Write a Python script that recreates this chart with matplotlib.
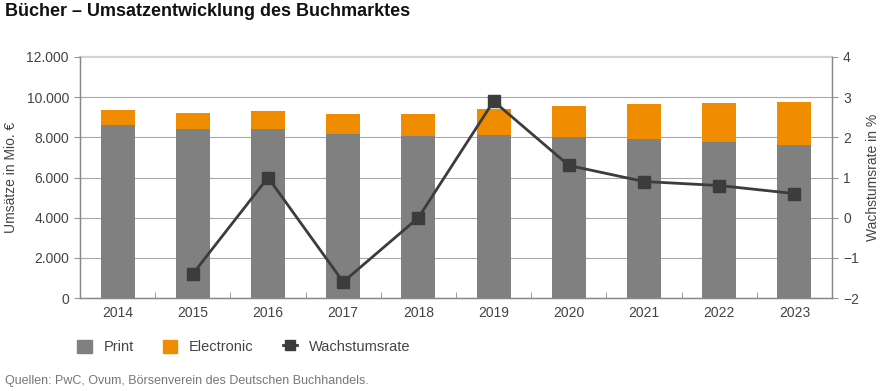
import matplotlib.pyplot as plt
from matplotlib.patches import Patch
from matplotlib.lines import Line2D
from matplotlib.ticker import FuncFormatter, FixedLocator

plt.rcParams['font.family'] = ['Liberation Sans', 'DejaVu Sans']

# data (Mio. EUR, growth in %)
years = ['2014', '2015', '2016', '2017', '2018', '2019', '2020', '2021', '2022', '2023']
print_sales = [8620, 8420, 8400, 8170, 8070, 8130, 8020, 7900, 7770, 7600]
electronic_sales = [740, 790, 900, 990, 1090, 1280, 1540, 1740, 1920, 2160]
growth_years = ['2015', '2016', '2017', '2018', '2019', '2020', '2021', '2022', '2023']
growth_rate = [-1.4, 1.0, -1.6, 0.0, 2.9, 1.3, 0.9, 0.8, 0.6]

c_print = '#808080'
c_elec = '#f08c00'
c_line = '#3c3c3c'
c_text = '#444444'

fig = plt.figure(figsize=(8.85, 3.91), dpi=100)
ax = fig.add_axes([80 / 885, 93 / 391, 752 / 885, 241 / 391])

x = list(range(len(years)))
ax.bar(x, print_sales, width=0.45, color=c_print, zorder=2)
ax.bar(x, electronic_sales, width=0.45, bottom=print_sales, color=c_elec, zorder=2)

ax.set_xlim(-0.5, len(years) - 0.5)
ax.set_ylim(0, 12000)
ax.set_yticks(range(0, 12001, 2000))
ax.yaxis.set_major_formatter(FuncFormatter(lambda v, p: f'{int(v):,}'.replace(',', '.')))
for v in range(2000, 12000, 2000):
    ax.axhline(v, color='#a8a8a8', lw=0.8, zorder=1)
ax.axhline(12000, color='#d4d4d4', lw=1.6, zorder=1, clip_on=False)

ax.set_xticks(x)
ax.set_xticklabels(years)
ax.tick_params(axis='x', length=0, pad=6, labelsize=10, colors=c_text)
ax.xaxis.set_minor_locator(FixedLocator([i + 0.5 for i in range(len(years) - 1)]))
ax.tick_params(axis='x', which='minor', direction='in', length=4, color='#888888')
ax.tick_params(axis='y', length=4, color='#999999', labelsize=10, colors=c_text, pad=4)
ax.set_ylabel('Umsätze in Mio. €', fontsize=10, color=c_text, labelpad=6)

for s in ['left', 'bottom', 'right']:
    ax.spines[s].set_color('#888888')
    ax.spines[s].set_linewidth(1.0)
ax.spines['top'].set_visible(False)

ax2 = ax.twinx()
ax2.set_ylim(-2, 4)
ax2.set_yticks(range(-2, 5))
ax2.yaxis.set_major_formatter(FuncFormatter(lambda v, p: f'{int(v)}'.replace('-', '\u2212')))
gx = [years.index(y) for y in growth_years]
ax2.plot(gx, growth_rate, color=c_line, lw=2, marker='s', markersize=8, zorder=3)
ax2.tick_params(axis='y', length=4, color='#999999', labelsize=10, colors=c_text, pad=4)
ax2.set_ylabel('Wachstumsrate in %', fontsize=10, color=c_text, labelpad=5)
for s in ['left', 'bottom', 'right']:
    ax2.spines[s].set_color('#888888')
ax2.spines['top'].set_visible(False)

fig.text(5 / 885, 1 - 12 / 391, 'Bücher – Umsatzentwicklung des Buchmarktes',
         fontsize=13, fontweight='bold', va='center', ha='left', color='#111111')

handles = [Patch(color=c_print), Patch(color=c_elec),
           Line2D([0], [0], color=c_line, lw=2, marker='s', markersize=7)]
fig.legend(handles, ['Print', 'Electronic', 'Wachstumsrate'], loc='center left',
           bbox_to_anchor=(64 / 885, 1 - 347 / 391), ncol=3, frameon=False,
           fontsize=10.5, labelcolor=c_text, handlelength=1.0, handleheight=1.0,
           columnspacing=2.0, handletextpad=0.8)

fig.text(5 / 885, 1 - 381 / 391, 'Quellen: PwC, Ovum, Börsenverein des Deutschen Buchhandels.',
         fontsize=9, color='#777777', va='center', ha='left')

fig.savefig('out.png', dpi=100)
